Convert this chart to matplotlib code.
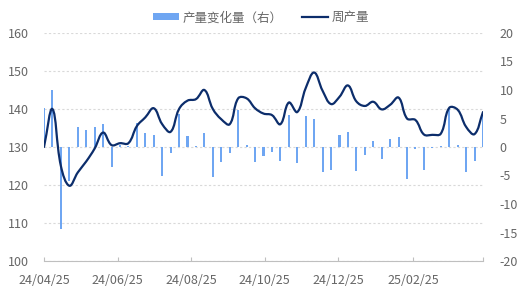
import numpy as np
import datetime as dt
import matplotlib
matplotlib.use('Agg')
import matplotlib.pyplot as plt
import matplotlib.dates as mdates
from matplotlib.path import Path
from matplotlib.patches import PathPatch, Patch
from matplotlib.lines import Line2D

plt.rcParams['font.family'] = ['Noto Sans CJK SC', 'DejaVu Sans']
plt.rcParams['axes.unicode_minus'] = False

# weekly data, starting 2024-04-25
start = dt.date(2024, 4, 25)
dates = [start + dt.timedelta(weeks=i) for i in range(53)]

weekly_output = [130, 140, 125, 119.8, 123.3, 126.2, 129.6, 133.8, 130.5, 131,
                 131, 135.5, 137.8, 140.2, 136, 134, 140, 142.2, 142.6, 145,
                 140, 137.3, 136, 142.8, 142.8, 140.2, 138.8, 138.4, 136, 141.7,
                 139.2, 145.5, 149.6, 144.8, 141.3, 143.2, 146.2, 142, 140.8, 141.9,
                 139.9, 141.1, 143, 137.5, 137.1, 133.3, 133.2, 133.5, 140.3, 139.8,
                 135.3, 133.4, 139.2]
weekly_change = [6.8, 10, -14.4, -5.9, 3.45, 3.0, 3.45, 4.0, -3.45, 0.35,
                 0.2, 4.15, 2.4, 2.1, -5.1, -1.1, 5.8, 1.9, 0.25, 2.4,
                 -5.3, -2.7, -1.1, 6.5, 0.3, -2.6, -1.6, -0.8, -2.4, 5.6,
                 -2.75, 5.4, 4.9, -4.3, -4.0, 2.1, 2.7, -4.2, -1.4, 1.05,
                 -2.1, 1.35, 1.8, -5.7, -0.4, -4.0, -0.2, 0.25, 6.6, 0.4,
                 -4.45, -2.4, 5.6]

tick_dates = [dt.date(2024, 4, 25), dt.date(2024, 6, 25), dt.date(2024, 8, 25),
              dt.date(2024, 10, 25), dt.date(2024, 12, 25), dt.date(2025, 2, 25),
              dt.date(2025, 4, 24)]
tick_labels = ['24/04/25', '24/06/25', '24/08/25', '24/10/25', '24/12/25', '25/02/25', '']
left_ticks = [100, 110, 120, 130, 140, 150, 160]
right_ticks = [-20, -15, -10, -5, 0, 5, 10, 15, 20]

bar_color = '#6fa6f2'
line_color = '#0c2d6b'
text_color = '#666666'

W, H = 522, 291
fig = plt.figure(figsize=(W / 100, H / 100), dpi=100)
ax = fig.add_axes([44 / W, 1 - 261 / H, 439 / W, 228 / H])
ax2 = ax.twinx()
ax3 = ax.twinx()

x = mdates.date2num(dates)
xlim = (mdates.date2num(dates[0]), mdates.date2num(dates[-1]))

# left axis + grid
ax.set_xlim(xlim)
ax.set_ylim(100, 160)
ax.set_yticks(left_ticks)
ax.set_xticks(mdates.date2num(tick_dates))
ax.set_xticklabels(tick_labels)
ax.grid(axis='y', color='#d9d9d9', linestyle=(0, (2, 2)), linewidth=0.8)
ax.tick_params(axis='y', length=0, pad=11, labelsize=9, labelcolor=text_color)
ax.tick_params(axis='x', direction='in', length=3, color='#bfbfbf', pad=9,
               labelsize=9, labelcolor=text_color)
for s in ['left', 'right', 'top']:
    ax.spines[s].set_visible(False)
ax.spines['bottom'].set_color('#bfbfbf')

# bars on right axis
ax2.bar(x, weekly_change, width=1.7, color=bar_color)
ax2.set_ylim(-20, 20)
ax2.set_yticks(right_ticks)
ax2.tick_params(axis='y', length=0, pad=12, labelsize=9, labelcolor=text_color)
for s in ax2.spines.values():
    s.set_visible(False)

# smoothed line on top
ax3.set_xlim(xlim)
ax3.set_ylim(100, 160)
ax3.set_yticks([])
for s in ax3.spines.values():
    s.set_visible(False)

pts = ax3.transData.transform(np.column_stack([x, weekly_output]))
n = len(pts)
smooth = 0.4
cps0 = []
cps1 = []
for i in range(n):
    p = pts[i]
    prev = pts[i - 1] if i > 0 else p
    nxt = pts[i + 1] if i < n - 1 else p
    v = (nxt - prev) * smooth
    d0 = np.hypot(*(p - prev))
    d1 = np.hypot(*(p - nxt))
    tot = d0 + d1
    if tot > 0:
        d0 /= tot
        d1 /= tot
    cps0.append(p - v * d0)
    cps1.append(p + v * d1)
verts = [pts[0]]
codes = [Path.MOVETO]
for i in range(n - 1):
    verts += [cps1[i], cps0[i + 1], pts[i + 1]]
    codes += [Path.CURVE4] * 3
verts = ax3.transData.inverted().transform(np.array(verts))
ax3.add_patch(PathPatch(Path(verts, codes), facecolor='none', edgecolor=line_color,
                        linewidth=1.6, capstyle='round', joinstyle='round'))

handles = [Patch(facecolor=bar_color, label='产量变化量（右）'),
           Line2D([0], [0], color=line_color, lw=1.6, label='周产量')]
fig.legend(handles=handles, loc='upper center', bbox_to_anchor=(0.5, 1.0), ncol=2,
           frameon=False, fontsize=9, handlelength=2.1, handleheight=0.45,
           columnspacing=1.5, handletextpad=0.3, labelcolor=text_color)

fig.savefig('out.png', dpi=100)
